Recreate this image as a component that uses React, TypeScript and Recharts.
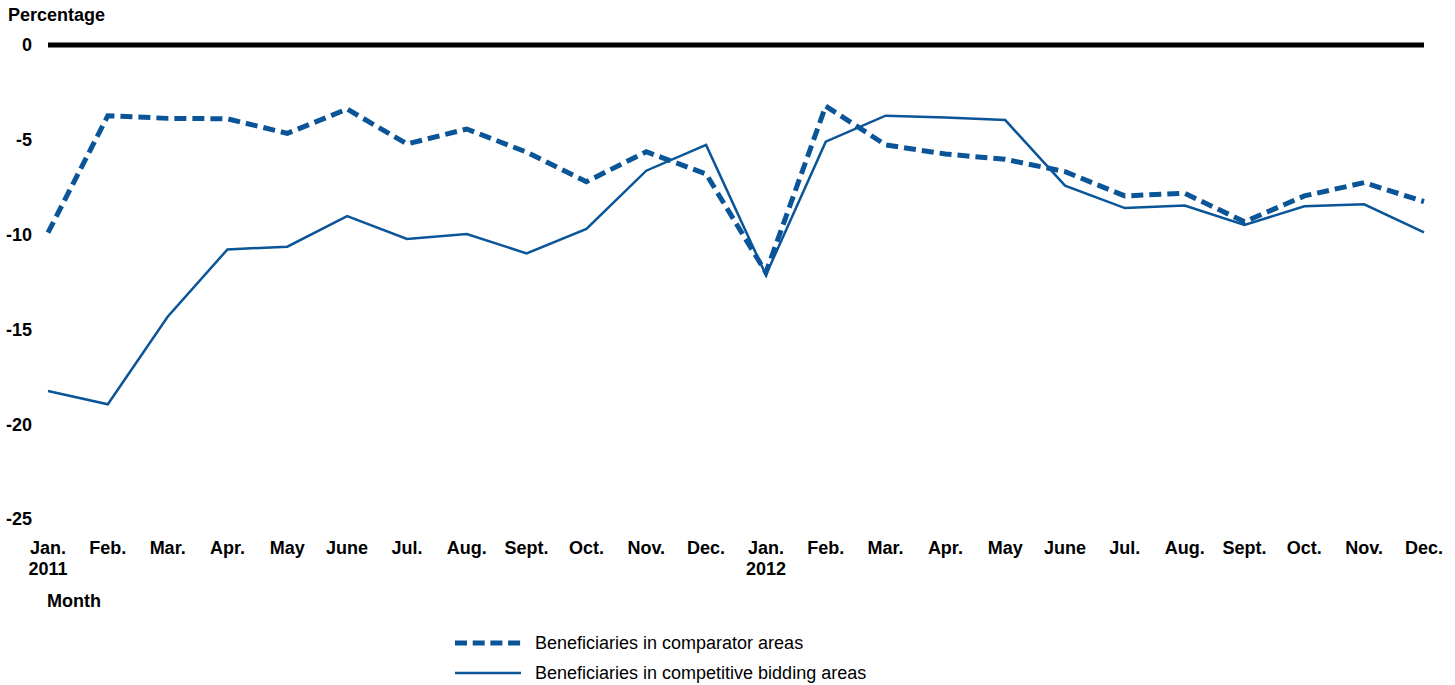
import { LineChart, Line, XAxis, YAxis, ReferenceLine, Legend } from 'recharts';

const months = [
  'Jan.|2011', 'Feb.', 'Mar.', 'Apr.', 'May', 'June', 'Jul.', 'Aug.', 'Sept.', 'Oct.', 'Nov.', 'Dec.',
  'Jan.|2012', 'Feb.', 'Mar.', 'Apr.', 'May', 'June', 'Jul.', 'Aug.', 'Sept.', 'Oct.', 'Nov.', 'Dec.',
];

// beneficiaries in comparator areas (dashed)
const comparator = [
  -9.9, -3.73, -3.87, -3.89, -4.66, -3.38, -5.22, -4.43, -5.65, -7.21, -5.63, -6.8,
  -12.0, -3.22, -5.27, -5.75, -6.03, -6.68, -7.96, -7.82, -9.32, -7.96, -7.26, -8.26,
];

// beneficiaries in competitive bidding areas (solid)
const competitive = [
  -18.25, -18.95, -14.33, -10.78, -10.64, -9.02, -10.23, -9.97, -10.99, -9.7, -6.63, -5.27,
  -12.13, -5.1, -3.73, -3.82, -3.96, -7.42, -8.6, -8.47, -9.49, -8.51, -8.4, -9.88,
];

const yTicks = [0, -5, -10, -15, -20, -25];

const data = months.map((m, i) => ({ month: m, comparator: comparator[i], competitive: competitive[i] }));

const BLUE = '#0a5598';
const FONT = 'Arial, "Liberation Sans", sans-serif';

function MonthTick({ x, y, payload }: any) {
  const [name, year] = String(payload.value).split('|');
  return (
    <text x={x} y={y} textAnchor="middle" fontFamily={FONT} fontSize={18} fontWeight="bold" fill="#000">
      <tspan x={x} dy={35}>{name}</tspan>
      {year && <tspan x={x} dy={21}>{year}</tspan>}
    </text>
  );
}

function PctTick({ x, y, payload }: any) {
  return (
    <text x={x} y={y} dy="0.355em" textAnchor="end" fontFamily={FONT} fontSize={18} fontWeight="bold" fill="#000">
      {payload.value}
    </text>
  );
}

function LegendBox() {
  const rows = [
    { label: 'Beneficiaries in comparator areas', dash: '12 5.7', w: 5 },
    { label: 'Beneficiaries in competitive bidding areas', dash: undefined, w: 2.5 },
  ];
  return (
    <div style={{ fontFamily: FONT, fontSize: 18, color: '#000' }}>
      {rows.map(r => (
        <div key={r.label} style={{ display: 'flex', alignItems: 'center', height: 30 }}>
          <svg width={66} height={10} style={{ marginRight: 14 }}>
            <line x1={0} y1={5} x2={66} y2={5} stroke={BLUE} strokeWidth={r.w} strokeDasharray={r.dash} />
          </svg>
          <span>{r.label}</span>
        </div>
      ))}
    </div>
  );
}

export default function App() {
  return (
    <div style={{ position: 'absolute', top: 0, left: 0, width: 1455, height: 685 }}>
      <LineChart width={1455} height={685} data={data} margin={{ top: 45, right: 31, left: 0, bottom: 66 }}>
        <XAxis
          dataKey="month"
          axisLine={false}
          tickLine={false}
          tickSize={0}
          tickMargin={0}
          interval={0}
          height={100}
          tick={<MonthTick />}
          label={{
            content: () => (
              <text x={47} y={607} fontFamily={FONT} fontSize={18} fontWeight="bold" fill="#000">Month</text>
            ),
          }}
        />
        <YAxis
          domain={[-25, 0]}
          ticks={yTicks}
          width={48}
          axisLine={false}
          tickLine={false}
          tickSize={0}
          tickMargin={16}
          tick={<PctTick />}
          label={{
            content: () => (
              <text x={8} y={21} fontFamily={FONT} fontSize={18} fontWeight="bold" fill="#000">Percentage</text>
            ),
          }}
        />
        <ReferenceLine y={0} stroke="#000" strokeWidth={5} />
        <Line
          dataKey="comparator"
          stroke={BLUE}
          strokeWidth={5}
          strokeDasharray="12 6"
          dot={false}
          isAnimationActive={false}
        />
        <Line
          dataKey="competitive"
          stroke={BLUE}
          strokeWidth={2.5}
          dot={false}
          isAnimationActive={false}
        />
        <Legend
          layout="vertical"
          align="center"
          verticalAlign="middle"
          content={<LegendBox />}
          wrapperStyle={{ position: 'absolute', top: 628, left: 455, width: 'auto', height: 'auto' }}
        />
      </LineChart>
    </div>
  );
}
